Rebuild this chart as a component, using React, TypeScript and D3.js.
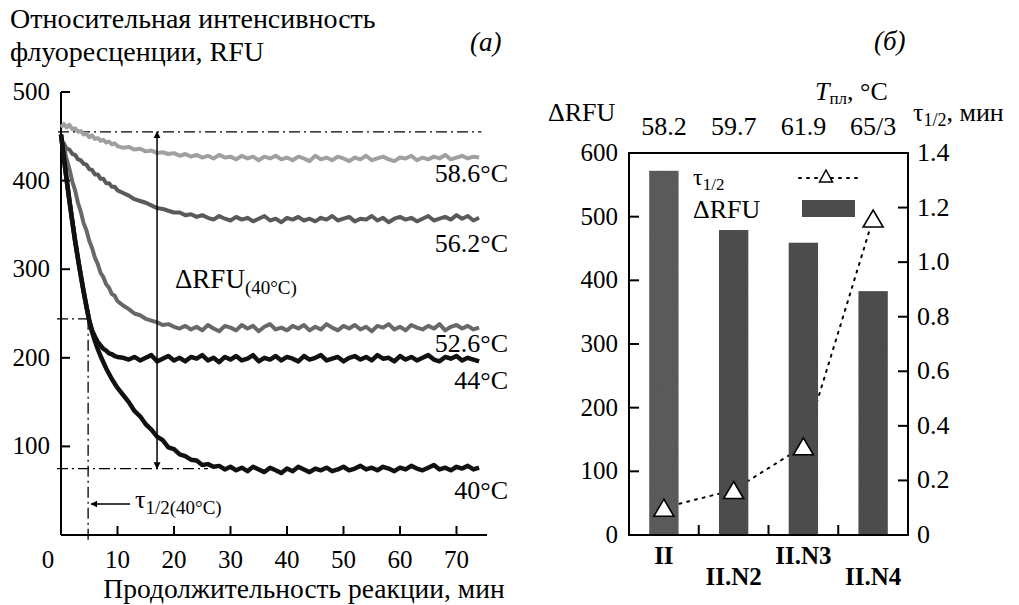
import React from 'react';
import * as d3 from 'd3';

// ---------- Panel (a): fluorescence kinetics ----------
const times = [
  0, 0.5, 1, 1.5, 2, 2.5, 3, 3.5, 4, 4.5, 5, 5.5, 6, 6.5, 7, 7.5, 8, 8.5, 9, 9.5, 10,
  11, 12, 13, 14, 15, 16, 17, 18, 19, 20, 21, 22, 23, 24, 25, 26, 27, 28, 29, 30,
  31, 32, 33, 34, 35, 36, 37, 38, 39, 40, 41, 42, 43, 44, 45, 46, 47, 48, 49, 50,
  51, 52, 53, 54, 55, 56, 57, 58, 59, 60, 61, 62, 63, 64, 65, 66, 67, 68, 69, 70,
  71, 72, 73, 74,
];

const rfu586 = [
  460, 464, 460, 463, 458, 459, 455, 456, 452, 453, 449, 451, 447, 448, 445, 446, 443, 444, 441, 442, 439,
  437, 438, 435, 436, 433, 434, 431, 432, 430, 431,
  428, 430, 427, 429, 426, 428, 425, 429, 426, 427,
  424, 428, 425, 427, 423, 427, 425, 428, 424, 426,
  423, 427, 425, 422, 428, 424, 426, 423, 427, 425,
  422, 426, 424, 428, 423, 425, 427, 424, 422, 426,
  425, 428, 423, 426, 424, 427, 425, 429, 424, 426,
  428, 425, 427, 426,
];

const rfu562 = [
  445, 442, 436, 435, 430, 429, 424, 423, 419, 418, 413, 412, 407, 407, 402, 402, 397, 397, 393, 393, 389,
  386, 383, 379, 377, 375, 372, 369, 368, 366, 364,
  364, 361, 362, 359, 361, 358, 356, 360, 357, 355,
  359, 356, 358, 354, 357, 360, 355, 357, 353, 358,
  356, 359, 355, 357, 354, 358, 356, 360, 355, 357,
  359, 354, 357, 356, 360, 355, 358, 353, 357, 359,
  356, 358, 354, 357, 360, 355, 357, 359, 356, 361,
  357, 360, 355, 358,
];

const rfu526 = [
  450, 439, 424, 413, 399, 389, 375, 365, 352, 344, 332, 324, 313, 306, 296, 291, 283, 279, 272, 270, 264,
  259, 255, 250, 248, 244, 242, 240, 237, 238, 235,
  233, 236, 232, 235, 231, 237, 233, 230, 236, 234,
  231, 237, 233, 236, 230, 235, 238, 232, 234, 231,
  236, 233, 237, 231, 235, 232, 238, 234, 231, 236,
  233, 237, 232, 235, 230, 236, 234, 238, 232, 235,
  231, 237, 234, 232, 236, 233, 238, 231, 235, 237,
  233, 236, 232, 234,
];

const rfu44 = [
  452, 426, 401, 377, 354, 332, 312, 293, 275, 258, 242, 231, 224, 218, 214, 210, 208, 205, 204, 202, 201,
  200, 198, 201, 197, 200, 203, 196, 199, 202, 197,
  200, 196, 201, 199, 203, 197, 200, 195, 201, 198,
  202, 197, 199, 203, 196, 200, 198, 202, 197, 201,
  199, 196, 202, 198, 200, 203, 197, 199, 201, 196,
  200, 202, 198, 201, 197, 203, 199, 200, 196, 202,
  198, 201, 197, 200, 203, 198, 196, 201, 199, 202,
  197, 200, 198, 196,
];

const rfu40 = [
  452, 426, 401, 377, 354, 332, 312, 293, 275, 258, 242, 229, 219, 210, 202, 195, 188, 182, 176, 171, 166,
  158, 150, 140, 134, 125, 119, 111, 107, 99, 97,
  91, 89, 85, 84, 79, 80, 77, 78, 74, 77,
  73, 76, 72, 77, 74, 71, 76, 73, 70, 75,
  72, 77, 74, 71, 75, 73, 76, 72, 74, 77,
  73, 75, 78, 74, 76, 73, 77, 75, 72, 76,
  74, 78, 75, 73, 76, 79, 74, 76, 73, 77,
  75, 78, 74, 76,
];

const curveLabels = ['58.6°C', '56.2°C', '52.6°C', '44°C', '40°C'];
const leftYTicks = [100, 200, 300, 400, 500];
const leftXTicks = [10, 20, 30, 40, 50, 60, 70];

const rfuStart = 455;
const rfuEnd40 = 75;
const rfuHalf40 = 244;
const tauHalf40 = 4.8;
const tArrow = 17;

// ---------- Panel (б): bars ----------
const compounds = ['II', 'II.N2', 'II.N3', 'II.N4'];
const meltT = ['58.2', '59.7', '61.9', '65/3'];
const deltaRFU = [572, 479, 459, 383];
const tauHalf = [0.1, 0.165, 0.325, 1.16];
const rightLeftTicks = [0, 100, 200, 300, 400, 500, 600];
const rightRightTicks = [0, 0.2, 0.4, 0.6, 0.8, 1.0, 1.2, 1.4];

const FONT = "'Liberation Serif', 'Times New Roman', serif";

function tri(cx: number, cy: number, w: number, h: number) {
  return `M${cx},${cy - h / 2}L${cx + w / 2},${cy + h / 2}L${cx - w / 2},${cy + h / 2}Z`;
}

export default function App() {
  const xL = d3.scaleLinear().domain([0, 75.4]).range([61, 487]);
  const yL = d3.scaleLinear().domain([0, 500]).range([535, 92]);

  const series = [
    { v: rfu586, color: '#a0a0a0', w: 4 },
    { v: rfu562, color: '#5a5a5a', w: 4 },
    { v: rfu526, color: '#686868', w: 4 },
    { v: rfu44, color: '#111', w: 4.5 },
    { v: rfu40, color: '#111', w: 4.5 },
  ];
  const labelPos = [182, 252, 352, 389, 499];

  const line = (vals: number[]) =>
    d3.line<number>()
      .x((_, i) => xL(times[i]))
      .y((d) => yL(d))(vals) as string;

  const xB = d3.scaleBand<string>().domain(compounds).range([629, 908]).padding(0);
  const yB = d3.scaleLinear().domain([0, 600]).range([535, 153]);
  const yT = d3.scaleLinear().domain([0, 1.4]).range([535, 153]);
  const bw = xB.bandwidth() * 0.42;
  const cx = (c: string) => (xB(c) as number) + xB.bandwidth() / 2;

  const tauLine = d3.line<number>()
    .x((_, i) => cx(compounds[i]))
    .y((d) => yT(d))(tauHalf) as string;

  const dashDot = '11,4,2,4';

  return (
    <svg width={1019} height={605} style={{ position: 'absolute', left: 0, top: 0, background: '#fff' }}
      fontFamily={FONT}>
      <defs>
        <marker id="ah" viewBox="0 0 10 10" refX="9" refY="5" markerWidth="7" markerHeight="11"
          markerUnits="userSpaceOnUse" orient="auto-start-reverse">
          <path d="M0,0L10,5L0,10Z" fill="#000" />
        </marker>
        <filter id="grain" x="0" y="0" width="100%" height="100%">
          <feTurbulence type="fractalNoise" baseFrequency="0.9" numOctaves="1" seed="3" result="n" />
          <feColorMatrix type="matrix" in="n"
            values="0 0 0 0 0  0 0 0 0 0  0 0 0 0 0  0 0 0 0.35 0" result="dark" />
          <feComposite in="dark" in2="SourceGraphic" operator="in" result="dk" />
          <feMerge><feMergeNode in="SourceGraphic" /><feMergeNode in="dk" /></feMerge>
        </filter>
      </defs>

      {/* ---------------- Panel (a) ---------------- */}
      <text x={10} y={28} fontSize={28}>Относительная интенсивность</text>
      <text x={10} y={61} fontSize={28}>флуоресценции, RFU</text>
      <text x={470} y={51} fontSize={27} fontStyle="italic">(a)</text>

      {/* axes */}
      <line x1={xL(0)} x2={xL(0)} y1={yL(500)} y2={535} stroke="#000" strokeWidth={2} />
      <line x1={xL(0)} x2={xL(75.4)} y1={535} y2={535} stroke="#000" strokeWidth={2} />
      {leftYTicks.map((t) => (
        <g key={t}>
          <line x1={xL(0)} x2={xL(0) + 9} y1={yL(t)} y2={yL(t)} stroke="#000" strokeWidth={2} />
          <text x={50} y={yL(t) + 8} fontSize={25} textAnchor="end">{t}</text>
        </g>
      ))}
      {leftXTicks.map((t) => (
        <g key={t}>
          <line x1={xL(t)} x2={xL(t)} y1={535} y2={526} stroke="#000" strokeWidth={2} />
          <text x={xL(t)} y={568} fontSize={25} textAnchor="middle">{t}</text>
        </g>
      ))}
      <text x={48} y={568} fontSize={25} textAnchor="middle">0</text>
      <text x={304} y={598} fontSize={27.5} textAnchor="middle">Продолжительность реакции, мин</text>

      {/* dash-dot guides */}
      <line x1={xL(0) - 3} x2={xL(74.4)} y1={yL(rfuStart)} y2={yL(rfuStart)} stroke="#000" strokeWidth={1.3} strokeDasharray={dashDot} />
      <line x1={xL(0) - 4} x2={xL(tauHalf40)} y1={yL(rfuHalf40)} y2={yL(rfuHalf40)} stroke="#000" strokeWidth={1.3} strokeDasharray={dashDot} />
      <line x1={xL(0) - 4} x2={xL(26)} y1={yL(rfuEnd40)} y2={yL(rfuEnd40)} stroke="#000" strokeWidth={1.3} strokeDasharray={dashDot} />
      <line x1={xL(tauHalf40)} x2={xL(tauHalf40)} y1={yL(rfuHalf40)} y2={540} stroke="#000" strokeWidth={1.3} strokeDasharray={dashDot} />

      {/* curve labels */}
      {curveLabels.map((l, i) => (
        <text key={l} x={508} y={labelPos[i]} fontSize={26} textAnchor="end">{l}</text>
      ))}

      {/* curves */}
      {series.map((s, i) => (
        <path key={i} d={line(s.v)} fill="none" stroke={s.color} strokeWidth={s.w} strokeLinejoin="round" />
      ))}

      {/* ΔRFU arrow */}
      <line x1={xL(tArrow)} x2={xL(tArrow)} y1={yL(rfuEnd40)} y2={yL(rfuStart)} stroke="#000" strokeWidth={1.5}
        markerStart="url(#ah)" markerEnd="url(#ah)" />
      <text x={175} y={288} fontSize={27}>ΔRFU<tspan fontSize={19} dy={6}>(40°C)</tspan></text>

      {/* τ1/2 arrow */}
      <line x1={130} x2={xL(tauHalf40) + 3} y1={504} y2={504} stroke="#000" strokeWidth={1.5} markerEnd="url(#ah)" />
      <text x={135} y={508} fontSize={26}>τ<tspan fontSize={19} dy={6}>1/2(40°C)</tspan></text>

      {/* ---------------- Panel (б) ---------------- */}
      <text x={874} y={50} fontSize={27} fontStyle="italic">(б)</text>
      <text x={548} y={121} fontSize={26}>ΔRFU</text>
      <text x={815} y={100} fontSize={26}><tspan fontStyle="italic">T</tspan><tspan fontSize={17} dy={4}>пл</tspan><tspan dy={-4}>, °C</tspan></text>
      <text x={913} y={121} fontSize={26}>τ<tspan fontSize={18} dy={5}>1/2</tspan><tspan dy={-5}>, мин</tspan></text>

      {compounds.map((c, i) => (
        <text key={c} x={cx(c)} y={135} fontSize={26} textAnchor="middle">{meltT[i]}</text>
      ))}

      {/* τ dotted line behind bars */}
      <path d={tauLine} fill="none" stroke="#000" strokeWidth={2} strokeDasharray="2,6" strokeLinecap="round" />

      {/* bars */}
      {compounds.map((c, i) => (
        <rect key={c} x={cx(c) - bw / 2} y={yB(deltaRFU[i])} width={bw} height={535 - yB(deltaRFU[i])}
          fill={i === 0 ? '#646464' : '#555'} filter="url(#grain)" />
      ))}

      {/* triangles */}
      {compounds.map((c, i) => (
        <path key={c} d={tri(cx(c), yT(tauHalf[i]), 20, 17)} fill="#fff" stroke="#000" strokeWidth={1.6} />
      ))}

      {/* frame */}
      <rect x={629} y={153} width={279} height={382} fill="none" stroke="#000" strokeWidth={2} />
      {rightLeftTicks.map((t) => (
        <g key={t}>
          <line x1={629} x2={639} y1={yB(t)} y2={yB(t)} stroke="#000" strokeWidth={2} />
          <text x={618} y={yB(t) + 8} fontSize={25} textAnchor="end">{t}</text>
        </g>
      ))}
      {rightRightTicks.map((t) => (
        <g key={t}>
          <line x1={908} x2={898} y1={yT(t)} y2={yT(t)} stroke="#000" strokeWidth={2} />
          <text x={917} y={yT(t) + 8} fontSize={26}>{t === 0 ? '0' : t.toFixed(1)}</text>
        </g>
      ))}
      {compounds.slice(1).map((c) => (
        <line key={c} x1={xB(c)} x2={xB(c)} y1={535} y2={525} stroke="#000" strokeWidth={2} />
      ))}
      {compounds.map((c, i) => (
        <text key={c} x={cx(c)} y={i % 2 === 0 ? 564 : 585} fontSize={25} fontWeight="bold" textAnchor="middle">{c}</text>
      ))}

      {/* legend */}
      <text x={693} y={185} fontSize={24}>τ<tspan fontSize={17} dy={5}>1/2</tspan></text>
      <text x={693} y={218} fontSize={26}>ΔRFU</text>
      <line x1={799} x2={857} y1={178} y2={178} stroke="#000" strokeWidth={2} strokeDasharray="2,6" strokeLinecap="round" />
      <path d={tri(826, 176, 13, 12)} fill="#fff" stroke="#000" strokeWidth={1.5} />
      <rect x={802} y={200} width={53} height={17} fill="#555" filter="url(#grain)" />
    </svg>
  );
}
